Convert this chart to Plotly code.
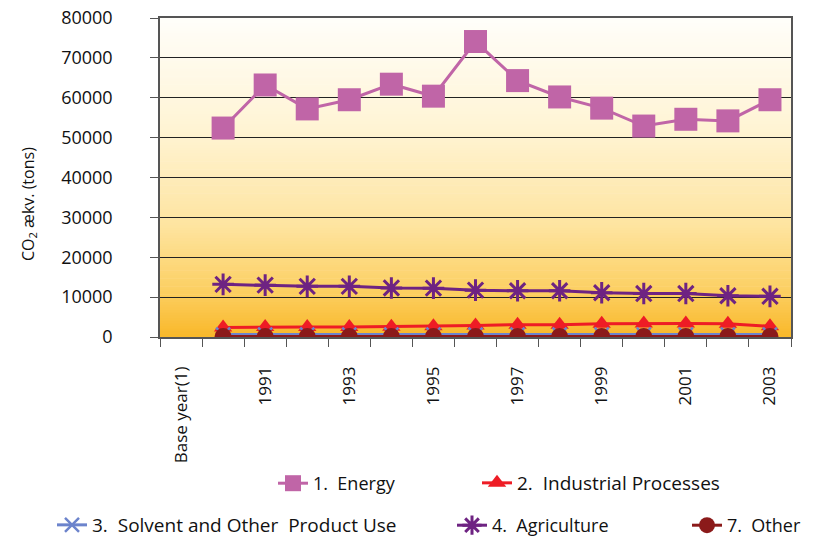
import plotly.graph_objects as go

categories = ["Base year(1)", "1990", "1991", "1992", "1993", "1994", "1995", "1996",
              "1997", "1998", "1999", "2000", "2001", "2002", "2003"]
tick_labels = ["Base year(1)", "", "1991", "", "1993", "", "1995", "", "1997", "",
               "1999", "", "2001", "", "2003"]

energy = [None, 52400, 63200, 57200, 59500, 63400, 60400, 74100, 64300, 60200, 57400, 52900, 54600, 54200, 59500]
industrial = [None, 2400, 2500, 2500, 2500, 2600, 2700, 2900, 3100, 3100, 3300, 3400, 3400, 3300, 2700]
solvent = [None, 600, 600, 600, 600, 600, 600, 600, 600, 600, 600, 600, 600, 600, 600]
agriculture = [None, 13200, 13000, 12700, 12700, 12300, 12250, 11750, 11600, 11600, 11100, 10900, 10900, 10350, 10200]
other = [None, 100, 100, 100, 100, 100, 100, 100, 100, 100, 100, 100, 100, 100, 100]

y_ticks = [0, 10000, 20000, 30000, 40000, 50000, 60000, 70000, 80000]
y_tick_labels = ["0", "10000", "20000", "30000", "40000", "50000", "60000", "70000", "80000"]
y_title = "CO<sub>2</sub> ækv. (tons)"

FONT = "Open Sans"

fig = go.Figure()

def add(name, y, color, symbol, size, legend, lw=3, mline=None):
    marker = dict(symbol=symbol, size=size, color=color)
    if mline:
        marker["line"] = dict(color=color, width=mline)
    fig.add_trace(go.Scatter(x=categories, y=y, name=name, mode="lines+markers",
                             line=dict(color=color, width=lw), marker=marker,
                             legend=legend, connectgaps=False))

add("1.\u00a0 Energy", energy, "#C065A7", "square", 23, "legend")
add("2.\u00a0 Industrial Processes", industrial, "#EE1C25", "triangle-up", 16, "legend2")
add("3.\u00a0 Solvent and Other\u00a0 Product Use", solvent, "#6C84CC", "x-thin-open", 14, "legend3", mline=2.5)
add("4.\u00a0 Agriculture", agriculture, "#6E2382", "asterisk-open", 18, "legend4", mline=3)
add("7.\u00a0 Other", other, "#8B1A1A", "circle", 17, "legend5")

# gradient background (decoration) as thin stripes
def lerp(c1, c2, t):
    return tuple(round(a + (b - a) * t) for a, b in zip(c1, c2))

stops = [(0.0, (255, 254, 250)), (0.35, (255, 244, 212)), (0.65, (254, 228, 160)),
         (0.85, (252, 208, 100)), (1.0, (249, 184, 42))]
N = 120
shapes = []
for i in range(N):
    t = (i + 0.5) / N
    for k in range(len(stops) - 1):
        if stops[k][0] <= t <= stops[k + 1][0]:
            tt = (t - stops[k][0]) / (stops[k + 1][0] - stops[k][0])
            c = lerp(stops[k][1], stops[k + 1][1], tt)
            break
    y1 = 1 - i / N
    y0 = 1 - (i + 1) / N
    shapes.append(dict(type="rect", xref="x domain", yref="y domain", x0=0, x1=1,
                       y0=y0 - 0.001, y1=y1 + 0.001, fillcolor="rgb(%d,%d,%d)" % c,
                       line=dict(width=0), layer="below"))

def leg(xpx, ypx_bottom, size=18):
    return dict(orientation="h", xref="container", yref="container",
                x=xpx / 817, y=1 - ypx_bottom / 540, xanchor="left", yanchor="bottom",
                font=dict(size=size, family=FONT, color="#111"), bgcolor="rgba(0,0,0,0)",
                itemwidth=30)

fig.update_layout(
    width=817, height=540,
    margin=dict(l=152, r=34, t=10, b=211, autoexpand=False),
    paper_bgcolor="white", plot_bgcolor="white",
    shapes=shapes,
    font=dict(family=FONT, color="#111", size=16),
    xaxis=dict(type="category", categoryorder="array", categoryarray=categories,
               tickvals=categories, ticktext=tick_labels, tickangle=-90,
               tickson="boundaries", ticks="outside", ticklen=8, tickcolor="#555",
               showgrid=False, showline=True, linecolor="#555", linewidth=1.5,
               mirror=True, tickfont=dict(size=17, family=FONT), ticklabelstandoff=21,
               range=[-0.5, 14.5], automargin=False, ticklabeloverflow="allow"),
    yaxis=dict(range=[0, 80000], tickvals=y_ticks, ticktext=y_tick_labels,
               ticks="outside", ticklen=8,
               tickcolor="#555", showgrid=True, gridcolor="#222", gridwidth=1,
               showline=True, linecolor="#555", linewidth=1.5, mirror=True,
               zeroline=False, tickfont=dict(size=18, family=FONT),
               ticklabelstandoff=34, automargin=False, ticklabeloverflow="allow"),
    annotations=[dict(text=y_title, textangle=-90, showarrow=False,
                      xref="paper", yref="paper", x=0, y=1 - (196 - 10) / 319,
                      xanchor="center", yanchor="middle", xshift=-132,
                      font=dict(size=16, family=FONT, color="#111"))],
    legend=leg(265, 494),
    legend2=leg(469, 494, 19),
    legend3=leg(44, 536, 19),
    legend4=leg(444, 536),
    legend5=leg(679, 536),
    showlegend=True,
)

fig.write_html("out.html")
